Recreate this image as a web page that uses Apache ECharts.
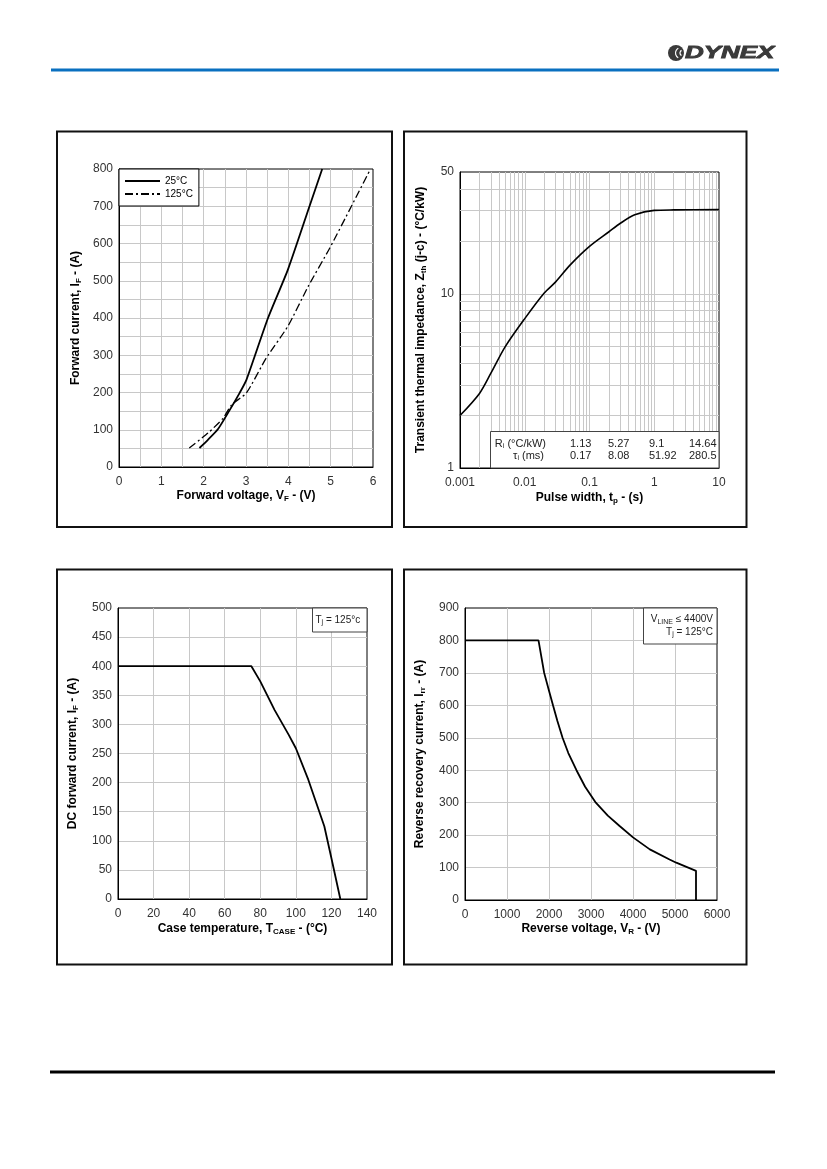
<!DOCTYPE html>
<html>
<head>
<meta charset="utf-8">
<script src="https://cdn.jsdelivr.net/npm/echarts@6/dist/echarts.min.js"></script>
<style>
html,body{margin:0;padding:0;background:#fff;}
#c{width:827px;height:1169px;}
</style>
</head>
<body>
<div id="c"></div>
<script>
// ---------- DATA ----------
// Forward characteristics (top-left)
const vf25  = [1.9, 2.1, 2.34, 2.6, 2.85, 3.01, 3.52, 3.99, 4.5, 4.8];
const if25  = [51, 73, 102, 150, 199, 234, 400, 530, 700, 800];
const vf125 = [1.66, 2.1, 2.46, 2.66, 3.01, 3.48, 3.99, 4.47, 4.98, 5.49, 5.94];
const if125 = [51, 91, 131, 167, 199, 293, 378, 485, 588, 700, 800];
const legendNames = ['25°C', '125°C'];

// Transient thermal impedance (top-right)
const pulseWidth = [0.001, 0.002, 0.003, 0.005, 0.01, 0.02, 0.03, 0.05, 0.1, 0.2, 0.3, 0.5, 1, 2, 10];
const zth        = [2.0, 2.68, 3.5, 4.97, 7.2, 10.1, 11.7, 14.6, 18.7, 22.7, 25.4, 28.4, 30.1, 30.3, 30.4];
const riValues   = ['1.13', '5.27', '9.1', '14.64'];
const tauValues  = ['0.17', '8.08', '51.92', '280.5'];
const logMinorX  = [0.002,0.003,0.004,0.005,0.006,0.007,0.008,0.009,0.02,0.03,0.04,0.05,0.06,0.07,0.08,0.09,0.2,0.3,0.4,0.5,0.6,0.7,0.8,0.9,2,3,4,5,6,7,8,9];
const logMinorY  = [2,3,4,5,6,7,8,9,20,30,40];

// DC current derating (bottom-left)
const tCase = [0, 75, 80, 88, 96, 100, 107, 116, 120, 125];
const iDC   = [400, 400, 374, 325, 282, 259, 205, 125, 70, 0];

// Reverse recovery current (bottom-right)
const vR  = [0, 1750, 1885, 2000, 2100, 2200, 2323, 2460, 2654, 2860, 3115, 3400, 3681, 4000, 4400, 4870, 5030, 5500, 5500];
const iRR = [800, 800, 700, 645, 598, 552, 500, 453, 400, 349, 300, 260, 228, 193, 156, 125, 115, 90, 0];

// ---------- CHART ----------
const FONT = 'Liberation Sans, Arial, sans-serif';
const GRIDC = '#c8c8c8';
const zip = (a, b) => a.map((v, i) => [v, b[i]]);

const nameStyle = {
  color: '#000', fontWeight: 'bold', fontSize: 12, fontFamily: FONT,
  rich: {
    b: {fontWeight: 'bold', fontSize: 12, fontFamily: FONT, color: '#000'},
    s: {fontWeight: 'bold', fontSize: 8, fontFamily: FONT, color: '#000', padding: [6, 0, 0, 0]}
  }
};
const labelStyle = {color: '#333', fontSize: 12, fontFamily: FONT};
const plainFmt = v => String(v);

function valAxis(gi, min, max, interval, name, gap, minor, margin) {
  return {
    type: 'value', gridIndex: gi, min, max, interval,
    name, nameLocation: 'middle', nameGap: gap, nameTextStyle: nameStyle,
    axisLine: {show: true, lineStyle: {color: '#000', width: 1}},
    axisTick: {show: false},
    axisLabel: Object.assign({margin: margin || 6, formatter: plainFmt}, labelStyle),
    splitLine: {show: true, showMinLine: false, showMaxLine: false, lineStyle: {color: GRIDC, width: 1}},
    minorTick: {show: false, splitNumber: minor || 5},
    minorSplitLine: {show: !!minor, lineStyle: {color: GRIDC, width: 1}}
  };
}

const logFmt = v => String(Number(Number(v).toPrecision(3)));

// log-grid minor lines as 'lines' series items (positioned by the log axes)
const minorGridLines = logMinorX.map(v => ({coords: [[v, 1], [v, 50]]}))
  .concat(logMinorY.map(v => ({coords: [[0.001, v], [10, v]]})));

const option = {
  backgroundColor: '#fff',
  animation: false,
  textStyle: {fontFamily: FONT},
  grid: [
    {left: 119, top: 169, width: 254, height: 298, show: true, borderColor: '#000', borderWidth: 1, backgroundColor: '#fff'},
    {left: 460, top: 172, width: 259, height: 296, show: true, borderColor: '#000', borderWidth: 1, backgroundColor: '#fff'},
    {left: 118, top: 608, width: 249, height: 291, show: true, borderColor: '#000', borderWidth: 1, backgroundColor: '#fff'},
    {left: 465, top: 608, width: 252, height: 292, show: true, borderColor: '#000', borderWidth: 1, backgroundColor: '#fff'}
  ],
  xAxis: [
    valAxis(0, 0, 6, 1, '{b|Forward voltage, V}{s|F}{b| - (V)}', 22, 2, 9),
    {
      type: 'log', logBase: 10, gridIndex: 1, min: 0.001, max: 10,
      name: '{b|Pulse width, t}{s|p}{b| - (s)}', nameLocation: 'middle', nameGap: 23, nameTextStyle: nameStyle,
      axisLine: {show: true, lineStyle: {color: '#000'}}, axisTick: {show: false},
      axisLabel: Object.assign({margin: 9, formatter: logFmt}, labelStyle),
      splitLine: {show: true, showMinLine: false, showMaxLine: false, lineStyle: {color: GRIDC}}
    },
    valAxis(2, 0, 140, 20, '{b|Case temperature, T}{s|CASE}{b| - (°C)}', 23, 0, 9),
    valAxis(3, 0, 6000, 1000, '{b|Reverse voltage, V}{s|R}{b| - (V)}', 22, 0, 9)
  ],
  yAxis: [
    valAxis(0, 0, 800, 100, '{b|Forward current, I}{s|F}{b| - (A)}', 36, 2),
    {
      type: 'log', logBase: 10, gridIndex: 1, min: 1, max: 50,
      name: '{b|Transient thermal impedance, Z}{s|th}{b| (j-c) - (°C/kW)}', nameLocation: 'middle', nameGap: 32, nameTextStyle: nameStyle,
      axisLine: {show: true, lineStyle: {color: '#000'}}, axisTick: {show: false},
      axisLabel: Object.assign({margin: 6, formatter: logFmt}, labelStyle),
      splitLine: {show: true, showMinLine: false, showMaxLine: false, lineStyle: {color: GRIDC}}
    },
    valAxis(2, 0, 500, 50, '{b|DC forward current, I}{s|F}{b| - (A)}', 38, 0),
    valAxis(3, 0, 900, 100, '{b|Reverse recovery current, I}{s|rr}{b| - (A)}', 38, 0)
  ],
  legend: {
    data: legendNames, left: 119, top: 169, orient: 'vertical',
    backgroundColor: '#fff', borderColor: '#000', borderWidth: 1, borderRadius: 0,
    padding: [7, 6, 7, 5], itemWidth: 35, itemHeight: 10, itemGap: 3,
    itemStyle: {color: 'rgba(0,0,0,0)', borderColor: 'rgba(0,0,0,0)', borderWidth: 0, opacity: 0},
    textStyle: {fontSize: 10, color: '#000', fontFamily: FONT}
  },
  series: [
    {name: legendNames[0], type: 'line', xAxisIndex: 0, yAxisIndex: 0, data: zip(vf25, if25), symbol: 'none', showSymbol: false, smooth: 0.2,
      lineStyle: {color: '#000', width: 1.8}, itemStyle: {color: '#000'}, z: 5},
    {name: legendNames[1], type: 'line', xAxisIndex: 0, yAxisIndex: 0, data: zip(vf125, if125), symbol: 'none', showSymbol: false, smooth: 0.2,
      lineStyle: {color: '#000', width: 1.3, type: [8, 3, 2, 3]}, itemStyle: {color: '#000'}, z: 5},
    {type: 'lines', coordinateSystem: 'cartesian2d', xAxisIndex: 1, yAxisIndex: 1, silent: true, z: 1,
      polyline: false, effect: {show: false},
      lineStyle: {color: GRIDC, width: 1, opacity: 1, curveness: 0},
      data: minorGridLines},
    {type: 'line', xAxisIndex: 1, yAxisIndex: 1, data: zip(pulseWidth, zth), symbol: 'none', smooth: 0.3,
      lineStyle: {color: '#000', width: 1.6}, z: 5},
    {type: 'line', xAxisIndex: 2, yAxisIndex: 2, data: zip(tCase, iDC), symbol: 'none',
      lineStyle: {color: '#000', width: 1.8}, z: 5},
    {type: 'line', xAxisIndex: 3, yAxisIndex: 3, data: zip(vR, iRR), symbol: 'none',
      lineStyle: {color: '#000', width: 1.8}, z: 5}
  ],
  graphic: []
};

// page decorations, frames, annotations
const g = option.graphic;
g.push({type: 'rect', shape: {x: 51, y: 68.5, width: 728, height: 3}, style: {fill: '#0a70c0'}, z: 10});
g.push({type: 'rect', shape: {x: 50, y: 1070.5, width: 725, height: 3}, style: {fill: '#000'}, z: 10});
[[57, 131.5, 335, 395.5], [404, 131.5, 342.5, 395.5], [57, 569.5, 335, 395], [404, 569.5, 342.5, 395]].forEach(r => {
  g.push({type: 'rect', shape: {x: r[0], y: r[1], width: r[2], height: r[3]}, style: {fill: 'none', stroke: '#111', lineWidth: 2}, z: 10});
});
// logo
g.push({type: 'circle', shape: {cx: 676, cy: 53, r: 8}, style: {fill: '#3a3a3a'}, z: 10});
g.push({type: 'arc', shape: {cx: 681, cy: 53, r: 5.5, startAngle: 2.1, endAngle: 4.2}, style: {stroke: '#fff', fill: 'none', lineWidth: 1.2}, z: 11});
g.push({type: 'arc', shape: {cx: 683, cy: 53, r: 3, startAngle: 2.1, endAngle: 4.2}, style: {stroke: '#fff', fill: 'none', lineWidth: 1.2}, z: 11});
g.push({type: 'text', x: 685, y: 53.5, scaleX: 1.62, style: {text: 'DYNEX', font: 'italic bold 16px ' + FONT, fill: '#3a3a3a', stroke: '#3a3a3a', lineWidth: 0.8, textVerticalAlign: 'middle'}, z: 10});

// thermal table
g.push({type: 'rect', shape: {x: 490.5, y: 431.5, width: 228.5, height: 36.5}, style: {fill: '#fff', stroke: '#444', lineWidth: 1}, z: 20});
const tblRich = {n: {fontSize: 11, fontFamily: FONT, fill: '#222'}, s: {fontSize: 7, fontFamily: FONT, fill: '#222', padding: [5, 0, 0, 0]}};
g.push({type: 'text', z: 21, style: {text: '{n|R}{s|i}{n| (°C/kW)}', x: 546, y: 443.5, textAlign: 'right', textVerticalAlign: 'middle', rich: tblRich}});
g.push({type: 'text', z: 21, style: {text: '{n|τ}{s|i}{n| (ms)}', x: 544, y: 456, textAlign: 'right', textVerticalAlign: 'middle', rich: tblRich}});
const colX = [570, 608, 649, 689];
riValues.forEach((v, i) => g.push({type: 'text', z: 21, style: {text: v, x: colX[i], y: 443.5, font: '11px ' + FONT, fill: '#222', textVerticalAlign: 'middle'}}));
tauValues.forEach((v, i) => g.push({type: 'text', z: 21, style: {text: v, x: colX[i], y: 456, font: '11px ' + FONT, fill: '#222', textVerticalAlign: 'middle'}}));

// Tj box bottom-left
const annRich = {n: {fontSize: 10, fontFamily: FONT, fill: '#222'}, s: {fontSize: 7, fontFamily: FONT, fill: '#222', padding: [5, 0, 0, 0]}};
g.push({type: 'rect', shape: {x: 312.5, y: 608, width: 54.5, height: 24}, style: {fill: '#fff', stroke: '#444', lineWidth: 1}, z: 20});
g.push({type: 'text', z: 21, style: {text: '{n|T}{s|j}{n| = 125°c}', x: 315.5, y: 620, textVerticalAlign: 'middle', rich: annRich}});

// box bottom-right
g.push({type: 'rect', shape: {x: 643.5, y: 608, width: 73.5, height: 36}, style: {fill: '#fff', stroke: '#444', lineWidth: 1}, z: 20});
g.push({type: 'text', z: 21, style: {text: '{n|V}{s|LINE}{n| ≤ 4400V}', x: 713, y: 619.5, textAlign: 'right', textVerticalAlign: 'middle', rich: annRich}});
g.push({type: 'text', z: 21, style: {text: '{n|T}{s|j}{n| = 125°C}', x: 713, y: 632, textAlign: 'right', textVerticalAlign: 'middle', rich: annRich}});

const chart = echarts.init(document.getElementById('c'), null, {renderer: 'canvas'});
chart.setOption(option);
</script>
</body>
</html>
